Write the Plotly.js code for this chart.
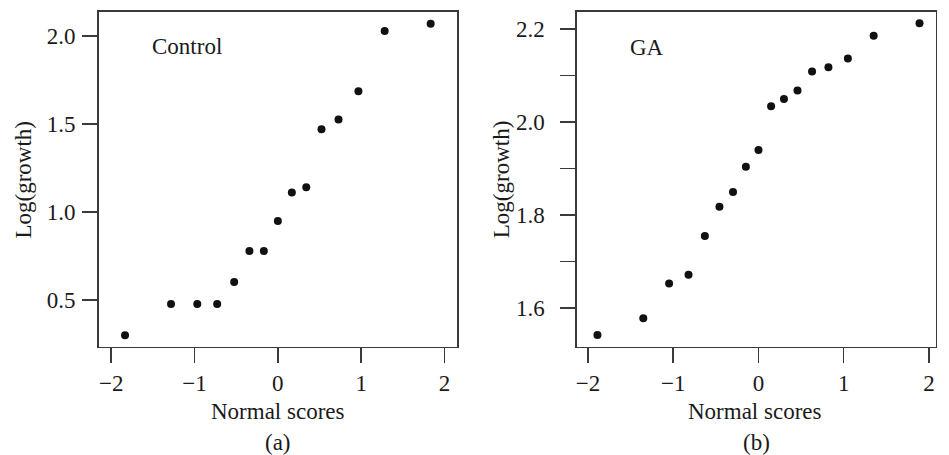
<!DOCTYPE html>
<html>
<head>
<meta charset="utf-8">
<script src="https://cdn.plot.ly/plotly-3.0.1.min.js"></script>
<style>html,body{margin:0;padding:0;background:#fff;}#chart{width:949px;height:455px;}</style>
</head>
<body>
<div id="chart"></div>
<script>
// Panel (a): Control
const controlScores = [-1.834, -1.282, -0.967, -0.728, -0.524, -0.341, -0.168, 0, 0.168, 0.341, 0.524, 0.728, 0.967, 1.282, 1.834];
const controlLogGrowth = [0.30, 0.477, 0.477, 0.477, 0.602, 0.778, 0.778, 0.949, 1.11, 1.14, 1.47, 1.525, 1.685, 2.027, 2.068];
// Panel (b): GA
const gaScores = [-1.890, -1.352, -1.049, -0.821, -0.629, -0.458, -0.299, -0.148, 0, 0.148, 0.299, 0.458, 0.629, 0.821, 1.049, 1.352, 1.890];
const gaLogGrowth = [1.542, 1.578, 1.653, 1.672, 1.755, 1.818, 1.850, 1.904, 1.940, 2.034, 2.050, 2.068, 2.109, 2.118, 2.137, 2.186, 2.213];
// Tick labels
const xTickVals = [-2, -1, 0, 1, 2];
const xTickText = ['\u22122', '\u22121', '0', '1', '2'];
const yTickValsA = [0.5, 1.0, 1.5, 2.0];
const yTickTextA = ['0.5', '1.0', '1.5', '2.0'];
const yTickValsB = [1.6, 1.7, 1.8, 1.9, 2.0, 2.1, 2.2];
const yTickTextB = ['1.6', '', '1.8', '', '2.0', '', '2.2'];
const panelLabels = ['Control', 'GA'];
const captions = ['(a)', '(b)'];
const xTitle = 'Normal scores';
const yTitle = 'Log(growth)';

const W = 949, H = 455;
const px = v => v / W;
const py = v => 1 - v / H;
const FONT = 'Liberation Serif, Times New Roman, serif';
const TXT = '#1a1a1a';
const LINE = '#3a3a3a';

const marker = {size: 8, color: '#111'};
const traces = [
  {x: controlScores, y: controlLogGrowth, type: 'scatter', mode: 'markers', marker: marker, xaxis: 'x', yaxis: 'y', hoverinfo: 'x+y'},
  {x: gaScores, y: gaLogGrowth, type: 'scatter', mode: 'markers', marker: marker, xaxis: 'x2', yaxis: 'y2', hoverinfo: 'x+y'}
];

const axisBase = {
  showline: true, mirror: true, linecolor: LINE, linewidth: 1.6,
  ticks: 'outside', ticklen: 15, tickwidth: 1.6, tickcolor: LINE,
  showgrid: false, zeroline: false, tickmode: 'array',
  tickfont: {family: FONT, size: 23, color: TXT}
};

const layout = {
  width: W, height: H,
  margin: {l: 0, r: 0, t: 0, b: 0},
  paper_bgcolor: '#fff', plot_bgcolor: '#fff',
  showlegend: false,
  font: {family: FONT, size: 23, color: TXT},
  xaxis: Object.assign({}, axisBase, {domain: [px(98.7), px(457)], range: [-2.15, 2.15], tickvals: xTickVals, ticktext: xTickText, anchor: 'y'}),
  yaxis: Object.assign({}, axisBase, {domain: [py(346.7), py(12)], range: [0.235, 2.135], tickvals: yTickValsA, ticktext: yTickTextA, anchor: 'x', ticklabelstandoff: 2}),
  xaxis2: Object.assign({}, axisBase, {domain: [px(577), px(935.7)], range: [-2.13, 2.08], tickvals: xTickVals, ticktext: xTickText, anchor: 'y2'}),
  yaxis2: Object.assign({}, axisBase, {domain: [py(346.7), py(12)], range: [1.517, 2.237], tickvals: yTickValsB, ticktext: yTickTextB, anchor: 'x2', ticklabelstandoff: 11}),
  annotations: [
    {text: panelLabels[0], xref: 'paper', yref: 'paper', x: px(150), y: py(47), xanchor: 'left', yanchor: 'middle', showarrow: false},
    {text: panelLabels[1], xref: 'paper', yref: 'paper', x: px(628), y: py(48), xanchor: 'left', yanchor: 'middle', showarrow: false},
    {text: xTitle, xref: 'paper', yref: 'paper', x: px(277.5), y: py(411), xanchor: 'center', yanchor: 'middle', showarrow: false},
    {text: xTitle, xref: 'paper', yref: 'paper', x: px(755), y: py(411), xanchor: 'center', yanchor: 'middle', showarrow: false},
    {text: captions[0], xref: 'paper', yref: 'paper', x: px(277.7), y: py(442), xanchor: 'center', yanchor: 'middle', showarrow: false},
    {text: captions[1], xref: 'paper', yref: 'paper', x: px(756.7), y: py(442), xanchor: 'center', yanchor: 'middle', showarrow: false},
    {text: yTitle, xref: 'paper', yref: 'paper', x: px(23), y: py(179.5), xanchor: 'center', yanchor: 'middle', textangle: -90, showarrow: false},
    {text: yTitle, xref: 'paper', yref: 'paper', x: px(501.7), y: py(179.5), xanchor: 'center', yanchor: 'middle', textangle: -90, showarrow: false}
  ]
};

Plotly.newPlot('chart', traces, layout, {staticPlot: true, displayModeBar: false});
</script>
</body>
</html>
